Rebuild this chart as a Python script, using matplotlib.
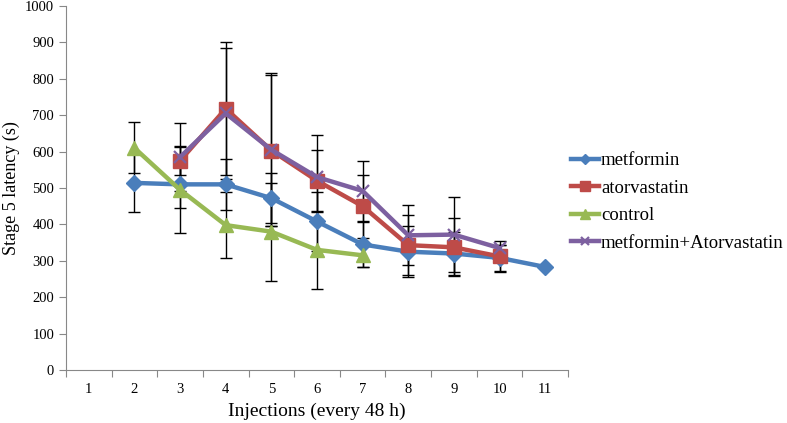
import matplotlib
matplotlib.use("Agg")
import matplotlib.pyplot as plt
import numpy as np

injections = [1, 2, 3, 4, 5, 6, 7, 8, 9, 10, 11]

met_x = [2, 3, 4, 5, 6, 7, 8, 9, 10, 11]
met_y = [514, 510, 510, 472, 408, 345, 325, 320, 308, 283]
met_err = [80, 65, 70, 69, 80, 62, 70, 60, 35, 0]

ator_x = [3, 4, 5, 6, 7, 8, 9, 10]
ator_y = [575, 718, 603, 520, 450, 343, 337, 312]
ator_err = [40, 183, 207, 85, 86, 83, 80, 43]

ctrl_x = [2, 3, 4, 5, 6, 7]
ctrl_y = [610, 495, 398, 380, 330, 315]
ctrl_err = [70, 118, 90, 135, 108, 33]

combo_x = [3, 4, 5, 6, 7, 8, 9, 10]
combo_y = [585, 705, 605, 530, 492, 370, 372, 335]
combo_err = [94, 180, 210, 115, 82, 82, 103, 8]

labels = ["metformin", "atorvastatin", "control", "metformin+Atorvastatin"]
colors = ["#4A7EBB", "#BE4B48", "#98B954", "#7D60A0"]
markers = ["D", "s", "^", "x"]
msizes = [8, 10, 10, 9]

plt.rcParams['font.family'] = ['Liberation Serif', 'DejaVu Serif']

fig = plt.figure(figsize=(7.87, 4.23), dpi=100)
ax = fig.add_axes([66/787, 53/423, (568-66)/787, (370-6)/423])

series = [(met_x, met_y, met_err), (ator_x, ator_y, ator_err),
          (ctrl_x, ctrl_y, ctrl_err), (combo_x, combo_y, combo_err)]

for (xs, ys, es), lab, c, m, ms in zip(series, labels, colors, markers, msizes):
    ax.errorbar(xs, ys, yerr=es, fmt='none', ecolor='black', elinewidth=1.0,
                capsize=4, capthick=1.0, zorder=2)
for (xs, ys, es), lab, c, m, ms in zip(series, labels, colors, markers, msizes):
    ax.plot(xs, ys, color=c, lw=3.2, marker=m, markersize=ms,
            markerfacecolor=c, markeredgecolor=c, markeredgewidth=1.6 if m == 'x' else 1,
            label=lab, zorder=3)

ax.set_xlim(0.5, 11.5)
ax.set_ylim(0, 1000)
ax.set_yticks(np.arange(0, 1001, 100))
ax.set_xticks(np.arange(0.5, 11.6, 1))
ax.set_xticklabels([])
ax.set_xticks(injections, minor=True)
ax.set_xticklabels([str(v) for v in injections], minor=True)
ax.tick_params(axis='x', which='major', direction='out', length=5, color='#888888')
ax.tick_params(axis='x', which='minor', length=0, pad=9, labelsize=10.5)
ax.tick_params(axis='y', direction='out', length=5, color='#888888', labelsize=10.5)

for s in ['top', 'right']:
    ax.spines[s].set_visible(False)
for s in ['left', 'bottom']:
    ax.spines[s].set_color('#888888')

ax.set_xlabel("Injections (every 48 h)", fontsize=14, labelpad=5)
ax.set_ylabel("Stage 5 latency (s)", fontsize=13, labelpad=4)

ax.legend(loc='center left', bbox_to_anchor=(1.006, 0.4615), frameon=False,
          fontsize=13.5, handlelength=1.5, handletextpad=0.1, labelspacing=0.55,
          borderaxespad=0, borderpad=0, markerscale=0.65)

fig.savefig("out.png", dpi=100)
